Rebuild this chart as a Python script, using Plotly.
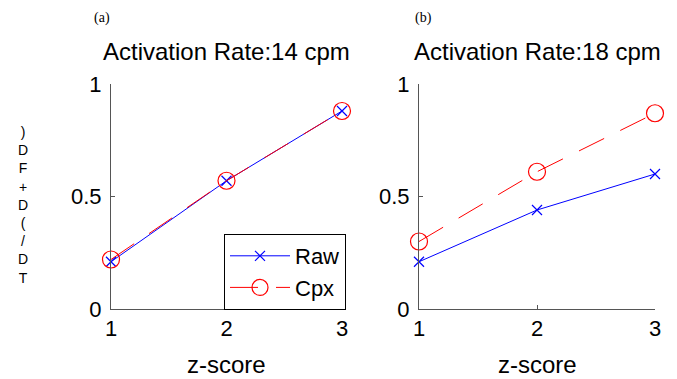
import plotly.graph_objects as go

z_score = [1, 2, 3]
raw_14 = [0.21, 0.57, 0.88]
cpx_14 = [0.22, 0.57, 0.88]
raw_18 = [0.21, 0.44, 0.60]
cpx_18 = [0.30, 0.61, 0.87]
titles = ["Activation Rate:14 cpm", "Activation Rate:18 cpm"]
panel_labels = ["(a)", "(b)"]
ylabel_chars = [")", "D", "F", "+", "D", "(", "/", "D", "T"]

W, H = 677, 379
BLUE = "#0000FF"
RED = "#FF0000"
AX = "#555555"
FONT = "Liberation Sans, Arial, sans-serif"

def px(x):
    return x / W

def py(y):
    return 1 - y / H

fig = go.Figure()

panels = [
    (raw_14, cpx_14, "x", "y"),
    (raw_18, cpx_18, "x2", "y2"),
]
for i, (raw, cpx, xa, ya) in enumerate(panels):
    fig.add_trace(go.Scatter(
        x=z_score, y=raw, xaxis=xa, yaxis=ya, name="Raw", mode="lines+markers",
        line=dict(color=BLUE, width=1),
        marker=dict(symbol="x-thin", size=10, line=dict(color=BLUE, width=1.2)),
        showlegend=(i == 0), cliponaxis=False,
    ))
    fig.add_trace(go.Scatter(
        x=z_score, y=cpx, xaxis=xa, yaxis=ya, name="Cpx", mode="lines+markers",
        line=dict(color=RED, width=1, dash="28px,18px"),
        marker=dict(symbol="circle-open", size=17, color=RED, line=dict(color=RED, width=1.2)),
        showlegend=(i == 0), cliponaxis=False,
    ))

ydom = [py(309), py(84)]
axis_common = dict(
    showgrid=False, zeroline=False, showline=True, linecolor=AX, linewidth=1,
    ticks="inside", ticklen=4, tickcolor=AX, automargin=False,
    tickfont=dict(family=FONT, size=22, color="black"),
)
fig.update_layout(
    width=W, height=H,
    margin=dict(l=0, r=0, t=0, b=0, pad=0, autoexpand=False),
    paper_bgcolor="white", plot_bgcolor="white",
    xaxis=dict(domain=[px(111), px(342)], range=[1, 3], tickvals=[1, 2, 3],
               anchor="y", **axis_common),
    yaxis=dict(domain=ydom, range=[0, 1], tickvals=[0, 0.5, 1], ticktext=["0", "0.5", "1"],
               anchor="x", ticklabelstandoff=4, **axis_common),
    xaxis2=dict(domain=[px(419), px(655)], range=[1, 3], tickvals=[1, 2, 3],
                anchor="y2", **axis_common),
    yaxis2=dict(domain=ydom, range=[0, 1], tickvals=[0, 0.5, 1], ticktext=["0", "0.5", "1"],
                anchor="x2", ticklabelstandoff=4, **axis_common),
    legend=dict(
        x=px(346), y=py(310), xanchor="right", yanchor="bottom",
        bgcolor="white", bordercolor="black", borderwidth=1,
        font=dict(family=FONT, size=22, color="black"),
        itemwidth=60, tracegroupgap=0,
    ),
)

centers = [(111 + 342) / 2, (419 + 655) / 2]
label_x = [102, 423]
for i in range(2):
    fig.add_annotation(text=titles[i], x=px(centers[i]), y=py(52), xref="paper", yref="paper",
                       showarrow=False, xanchor="center", yanchor="middle",
                       font=dict(family=FONT, size=24, color="black"))
    fig.add_annotation(text="z-score", x=px(centers[i]), y=py(364), xref="paper", yref="paper",
                       showarrow=False, xanchor="center", yanchor="middle",
                       font=dict(family=FONT, size=24, color="black"))
    fig.add_annotation(text=panel_labels[i], x=px(label_x[i]), y=py(18), xref="paper", yref="paper",
                       showarrow=False, xanchor="center", yanchor="middle",
                       font=dict(family="Liberation Serif, Times New Roman, serif", size=14, color="black"))

fig.add_annotation(text="<br>".join(ylabel_chars), x=px(23), y=py(205), xref="paper", yref="paper",
                   showarrow=False, xanchor="center", yanchor="middle",
                   font=dict(family=FONT, size=14, color="black"))

fig.write_html("out.html", post_script="document.body.style.margin='0px';",
               config={"displayModeBar": False})
